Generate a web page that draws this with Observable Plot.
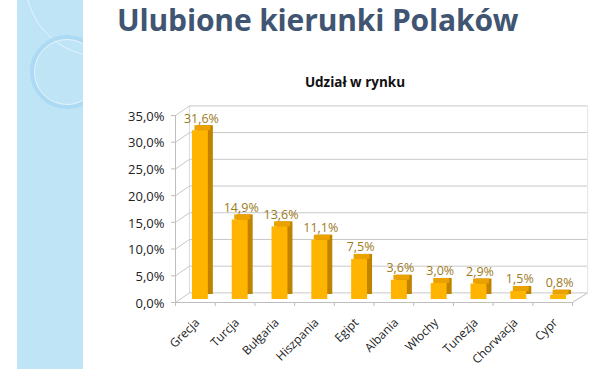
<!DOCTYPE html>
<html>
<head>
<meta charset="utf-8">
<script src="https://cdn.jsdelivr.net/npm/d3@7"></script>
<script src="https://cdn.jsdelivr.net/npm/@observablehq/plot@0.6"></script>
<style>
  html, body { margin: 0; padding: 0; background: #fff; }
  #wrap { position: relative; width: 600px; height: 369px; overflow: hidden; background: #fff; }
  #strip { position: absolute; left: 17px; top: 0; width: 66px; height: 369px; background: #bfe4f6; overflow: hidden; }
  #strip .ring { position: absolute; border-radius: 50%; }
  #title { position: absolute; left: 117px; top: -1px; margin: 0; font-family: "Open Sans", sans-serif; font-weight: 700; font-size: 30px; color: #3f5572; white-space: nowrap; letter-spacing: -0.15px; }
  #subtitle { position: absolute; left: 0; width: 710px; top: 73px; text-align: center; font-family: "Open Sans", sans-serif; font-weight: 700; font-size: 13.5px; color: #111; white-space: nowrap; }
  #chart { position: absolute; left: 0; top: 0; }
</style>
</head>
<body>
<div id="wrap">
  <div id="strip">
    <div class="ring" style="left:8px; top:-95px; width:150px; height:150px; border:1.5px solid rgba(255,255,255,0.55);"></div>
    <div class="ring" style="left:13px; top:35px; width:66px; height:66px; border:4px solid rgba(160,210,242,0.6);"></div>
    <div class="ring" style="left:17px; top:39px; width:64px; height:64px; border:1px solid rgba(255,255,255,0.55);"></div>
  </div>
  <h1 id="title">Ulubione kierunki Polaków</h1>
  <div id="subtitle">Udział w rynku</div>
  <div id="chart"></div>
</div>
<script>
const categories = ["Grecja", "Turcja", "Bułgaria", "Hiszpania", "Egipt", "Albania", "Włochy", "Tunezja", "Chorwacja", "Cypr"];
const shares = [31.6, 14.9, 13.6, 11.1, 7.5, 3.6, 3.0, 2.9, 1.5, 0.8];
const yTicks = [0, 5, 10, 15, 20, 25, 30, 35];

const data = categories.map((c, i) => ({c, i, v: shares[i]}));
const fmt = v => v.toFixed(1).replace(".", ",") + "%";

// 3D frame geometry in category units
const leftFront = -0.625, leftBack = -0.275, rightBack = 9.73, rightFront = 9.35;
const depthY = 1.8; // back wall raise (in % units)
const half = 0.2;   // half bar width (category units)
const n = categories.length;
const floorTicks = d3.range(n + 1).map(k => leftFront + k * (rightFront - leftFront) / n);

const grid = "#c8c8c8";
const chart = Plot.plot({
  width: 600,
  height: 369,
  marginLeft: 0, marginRight: 0, marginTop: 0, marginBottom: 0,
  x: {type: "linear", domain: [-0.5, n - 0.5], range: [180, 578], axis: null},
  y: {domain: [0, 35], range: [299, 112], axis: null},
  style: {background: "transparent", overflow: "visible"},
  marks: [
    // back wall gridlines
    Plot.ruleY(yTicks, {y: d => d + depthY, x1: leftBack, x2: rightBack, stroke: grid, strokeWidth: 1, dy: 3}),
    // back wall right edge
    Plot.ruleX([rightBack], {y1: depthY, y2: 35 + depthY, stroke: "#e4e4e4", dy: 3}),
    // left wall back edge
    Plot.ruleX([leftBack], {y1: depthY, y2: 35 + depthY, stroke: "#dcdcdc", dy: 3}),
    // left wall diagonals
    Plot.link(yTicks, {x1: leftFront, y1: d => d, x2: leftBack, y2: d => d + depthY, stroke: grid, dy: 3}),
    // left wall front edge
    Plot.ruleX([leftFront], {y1: 0, y2: 35, stroke: "#bdbdbd", dy: 3}),
    // y ticks
    Plot.ruleY(yTicks, {x1: leftFront - 0.1, x2: leftFront, stroke: "#bdbdbd", dy: 3}),
    // floor front edge and right diagonal
    Plot.ruleY([0], {x1: leftFront, x2: rightFront, stroke: "#bdbdbd", dy: 3}),
    Plot.link([0], {x1: rightFront, y1: 0, x2: rightBack, y2: depthY, stroke: "#bdbdbd", dy: 3}),
    Plot.ruleX(floorTicks, {y1: 0, y2: 0, stroke: "#bdbdbd", dy: 3, insetBottom: -4}),
    // bars: side, top, front
    Plot.rectY(data, {x1: d => d.i - half, x2: d => d.i + half, y1: 0, y2: "v", fill: "#bf8300", dx: 5, dy: -5}),
    Plot.rectY(data, {x1: d => d.i - half, x2: d => d.i + half, y1: "v", y2: "v", insetTop: -5, fill: "#eaa200", dx: 2.5}),
    Plot.rectY(data, {x1: d => d.i - half, x2: d => d.i + half, y1: 0, y2: "v", fill: "#ffb400"}),
    // value labels
    Plot.text(data, {x: "i", y: "v", text: d => fmt(d.v), dy: -12, dx: 1, fill: "#9c7a1c", fontSize: 12.5, fontFamily: "Open Sans, sans-serif"}),
    // y tick labels
    Plot.text(yTicks, {x: leftFront, y: d => d, text: d => fmt(d), textAnchor: "end", dx: -11, dy: 4, fill: "#222", fontSize: 13, fontFamily: "Open Sans, sans-serif"}),
    // category labels
    Plot.text(data, {x: "i", y: 0, text: "c", rotate: -45, textAnchor: "end", dx: -3, dy: 21, fill: "#222", fontSize: 12, fontFamily: "Open Sans, sans-serif"})
  ]
});
document.getElementById("chart").appendChild(chart);
</script>
</body>
</html>
